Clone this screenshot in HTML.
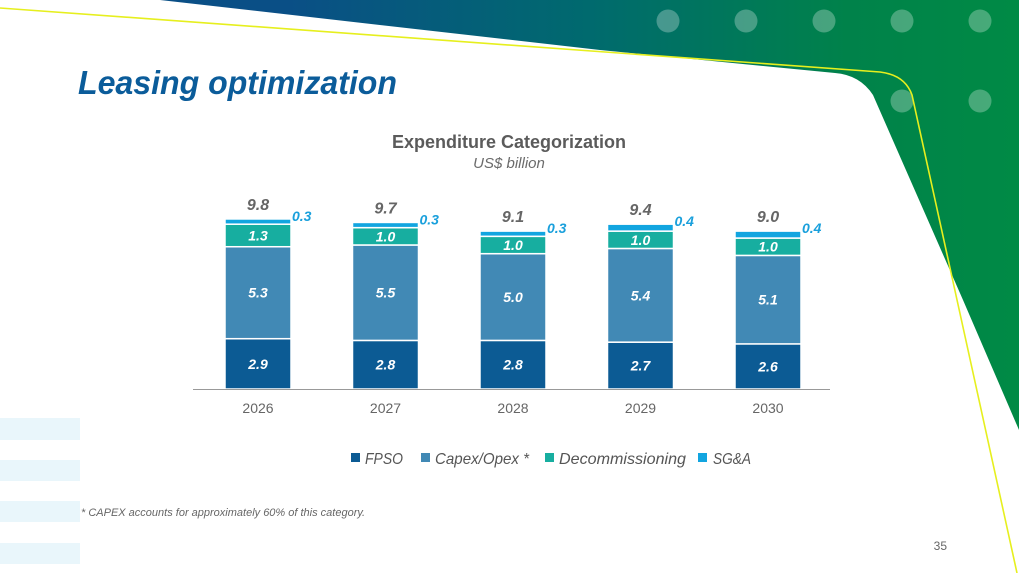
<!DOCTYPE html>
<html><head><meta charset="utf-8"><style>
body{margin:0;width:1019px;height:573px;overflow:hidden;background:#fff;font-family:"Liberation Sans",sans-serif;}
svg{display:block}
</style></head><body>
<svg width="1019" height="573" viewBox="0 0 1019 573">
<defs><linearGradient id="g" x1="0" x2="1" y1="0" y2="0">
<stop offset="0.15" stop-color="#0a4f86"/><stop offset="0.5" stop-color="#006a6e"/><stop offset="0.8" stop-color="#00824a"/><stop offset="1" stop-color="#008a45"/></linearGradient></defs>
<path d="M160,0 L1019,0 L1019,430 L963,300 L873,95 Q860,75 835,73 L600,50 Z" fill="url(#g)"/>
<g fill="#ffffff" fill-opacity="0.28">
<circle cx="668" cy="21" r="11.5"/><circle cx="746" cy="21" r="11.5"/><circle cx="824" cy="21" r="11.5"/><circle cx="902" cy="21" r="11.5"/><circle cx="980" cy="21" r="11.5"/>
<circle cx="902" cy="101" r="11.5"/><circle cx="980" cy="101" r="11.5"/></g>
<path d="M0,8 L880,72 Q905,75 912,95 L1017,573" fill="none" stroke="#e6ef1e" stroke-width="1.6"/>
<g fill="#e9f6fb">
<rect x="0" y="418" width="80" height="22"/><rect x="0" y="460" width="80" height="21"/><rect x="0" y="501" width="80" height="21"/><rect x="0" y="543" width="80" height="21"/></g>
<text x="78" y="94" font-size="33" font-weight="bold" font-style="italic" fill="#0b5c9a" textLength="319" lengthAdjust="spacingAndGlyphs">Leasing optimization</text>
<text x="509" y="148" text-anchor="middle" font-size="18" font-weight="bold" fill="#5b5b5b">Expenditure Categorization</text>
<text x="509" y="168" text-anchor="middle" font-size="15" font-style="italic" fill="#6b6b6b">US$ billion</text>
<g id="chart"></g>
<line x1="193" y1="389.5" x2="830" y2="389.5" stroke="#999" stroke-width="1"/>
<g font-size="16" font-style="italic" fill="#555">
<rect x="351" y="453" width="9" height="9" fill="#0c5b94"/><text x="365" y="464" textLength="38" lengthAdjust="spacingAndGlyphs">FPSO</text>
<rect x="421" y="453" width="9" height="9" fill="#4189b5"/><text x="435" y="464" textLength="94" lengthAdjust="spacingAndGlyphs">Capex/Opex *</text>
<rect x="545" y="453" width="9" height="9" fill="#17aea0"/><text x="559" y="464" textLength="127" lengthAdjust="spacingAndGlyphs">Decommissioning</text>
<rect x="698" y="453" width="9" height="9" fill="#12a5e0"/><text x="713" y="464" textLength="38" lengthAdjust="spacingAndGlyphs">SG&amp;A</text></g>
<text x="81" y="516" font-size="11" font-style="italic" fill="#666">* CAPEX accounts for approximately 60% of this category.</text>
<text x="947" y="550" text-anchor="end" font-size="12" fill="#666">35</text>
</svg>
<script>
const years=["2026","2027","2028","2029","2030"];
const fpso=[2.9,2.8,2.8,2.7,2.6];
const capex=[5.3,5.5,5.0,5.4,5.1];
const decom=[1.3,1.0,1.0,1.0,1.0];
const sga=[0.3,0.3,0.3,0.4,0.4];
const totals=["9.8","9.7","9.1","9.4","9.0"];
const NS="http://www.w3.org/2000/svg";
const g=document.getElementById('chart');
const base=389, k=17.35, x0=258, step=127.5, bw=66;
const X=i=>x0+i*step, H=v=>v*k;
function mk(t,a){const e=document.createElementNS(NS,t);for(const n in a)e.setAttribute(n,a[n]);g.appendChild(e);return e;}
const series=[[fpso,"#0c5b94","fpso"],[capex,"#4189b5","capex"],[decom,"#17aea0","decom"],[sga,"#12a5e0","sga"]];
years.forEach((y,i)=>{
 let top=base;
 series.forEach(([arr,col,nm],si)=>{
  const h=H(arr[i]);top-=h;
  const r=mk('rect',{x:X(i)-bw/2,y:top,width:bw,height:h,fill:col,stroke:'#fff','stroke-width':1.5});
  
  
  let t;
  if(si<3){t=mk('text',{x:X(i),y:top+h/2+5,'text-anchor':'middle','font-size':14,'font-weight':'bold','font-style':'italic',fill:'#fff'});}
  else{t=mk('text',{x:X(i)+bw/2+1,y:top+2,'text-anchor':'start','font-size':14,'font-weight':'bold','font-style':'italic',fill:'#1aa0dc'});}
  t.textContent=arr[i].toFixed(1);
  
  
 });
 const tt=mk('text',{x:X(i),y:top-9,'text-anchor':'middle','font-size':16,'font-weight':'bold','font-style':'italic',fill:'#666'});
 tt.textContent=totals[i];
 
 
 const xl=mk('text',{x:X(i),y:413,'text-anchor':'middle','font-size':14,fill:'#666'});
 xl.textContent=y;
 
 
});
</script>
</body></html>
